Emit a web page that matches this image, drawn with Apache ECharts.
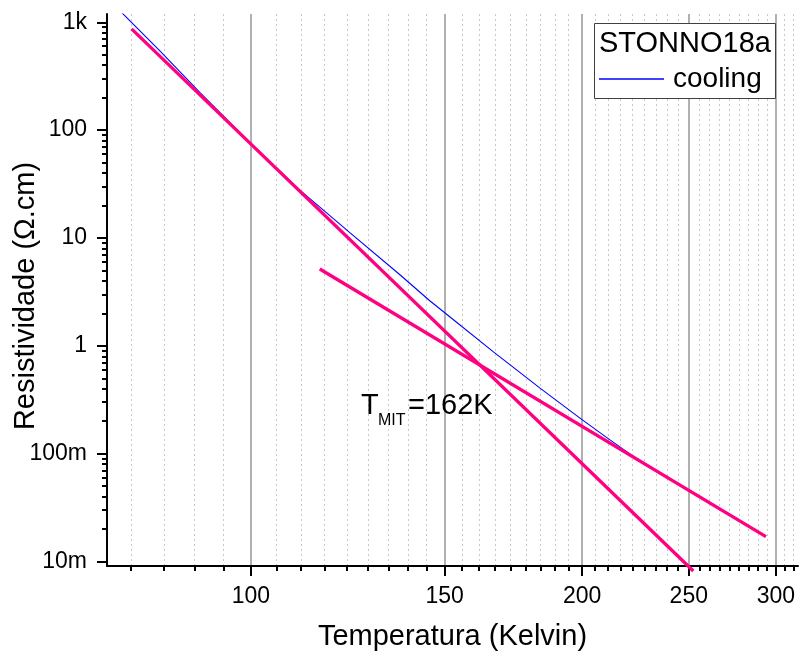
<!DOCTYPE html>
<html>
<head>
<meta charset="utf-8">
<title>STONNO18a resistividade</title>
<script src="https://cdn.jsdelivr.net/npm/echarts@6/dist/echarts.min.js"></script>
<style>
  html, body { margin: 0; padding: 0; background: #fff; }
  #chart { width: 800px; height: 657px; }
</style>
</head>
<body>
<div id="chart"></div>
<script>
// Cooling curve, resistivity (Ω.cm) vs temperature (K)
const coolingT   = [75.2, 76.3, 82.7, 89.9, 100.0, 110.8, 123.0, 136.6, 145.4, 151.6, 165.9, 183.0, 199.8, 212.0, 221.0, 230.4];
const coolingRho = [1430, 1232, 541, 222.9, 74.9, 27.75, 11.19, 4.56, 2.616, 1.858, 0.889, 0.4076, 0.2079, 0.1341, 0.0995, 0.0762];

// Straight-line fits on the log-log plot (low-T and high-T regimes)
const fitLowT    = [77.9, 252.4];
const fitLowRho  = [869, 0.00816];
const fitHighT   = [115.5, 293.8];
const fitHighRho = [5.15, 0.0170];

// Axis ticks
const xMajorTicks = [100, 150, 200, 250, 300];
const yMajorTicks = [0.01, 0.1, 1, 10, 100, 1000];

const xRange = [74.0, 314.2];
const yRange = [0.009082, 1193];

// Minor temperature ticks: 8 between each pair of major ticks
const xMinorTicks = [];
const xStep = (xMajorTicks[1] - xMajorTicks[0]) / 9;
for (let v = xMajorTicks[0] - xStep; v > xRange[0]; v -= xStep) xMinorTicks.unshift(+v.toFixed(4));
for (let i = 0; i < xMajorTicks.length; i++) {
  const a = xMajorTicks[i];
  const b = i + 1 < xMajorTicks.length ? xMajorTicks[i + 1] : a + (xMajorTicks[1] - xMajorTicks[0]);
  const step = (b - a) / 9;
  for (let k = 1; k < 9; k++) {
    const v = a + k * step;
    if (v < xRange[1]) xMinorTicks.push(+v.toFixed(4));
  }
}

// Minor resistivity ticks: 2..9 within every decade
const yMinorTicks = [];
for (const d of [0.001, 0.01, 0.1, 1, 10, 100, 1000]) {
  for (let m = 2; m <= 9; m++) {
    const v = +(m * d).toPrecision(6);
    if (v > yRange[0] && v < yRange[1]) yMinorTicks.push(v);
  }
}

const pairs = (xs, ys) => xs.map((x, i) => [x, ys[i]]);

function rhoLabel(v) {
  const e = Math.round(Math.log10(v));
  const map = { '-3': '1m', '-2': '10m', '-1': '100m', '0': '1', '1': '10', '2': '100', '3': '1k' };
  return map[String(e)] || String(v);
}

const FONT = 'Liberation Sans, Arial, sans-serif';
const pink = '#ff0080';

const chart = echarts.init(document.getElementById('chart'), null, { renderer: 'canvas' });

chart.setOption({
  backgroundColor: '#ffffff',
  animation: false,
  textStyle: { fontFamily: FONT },
  grid: { left: 107, right: 2, top: 14, bottom: 91, containLabel: false, outerBoundsMode: 'none' },
  xAxis: [
    {
      type: 'log', min: xRange[0], max: xRange[1],
      name: 'Temperatura (Kelvin)', nameLocation: 'middle', nameGap: 56, nameMoveOverlap: false,
      nameTextStyle: { fontSize: 29, color: '#000', fontFamily: FONT },
      axisLine: { show: true, onZero: false, lineStyle: { color: '#000', width: 2 } },
      axisTick: { show: true, customValues: xMajorTicks, length: 10, lineStyle: { color: '#000', width: 2 } },
      axisLabel: { show: true, customValues: xMajorTicks, fontSize: 23, color: '#000', margin: 19, fontFamily: FONT,
                   formatter: v => String(Math.round(v)) },
      splitLine: { show: true, lineStyle: { color: '#b0b0b0', width: 2 } },
      minorTick: { show: false }, minorSplitLine: { show: false }
    },
    {
      type: 'log', min: xRange[0], max: xRange[1], position: 'bottom',
      axisLine: { show: false, onZero: false },
      axisTick: { show: true, customValues: xMinorTicks, length: 5, lineStyle: { color: '#000', width: 2 } },
      axisLabel: { show: false },
      splitLine: { show: true, lineStyle: { color: '#c8c8c8', width: 1, type: [2, 3] } }
    }
  ],
  yAxis: [
    {
      type: 'log', min: yRange[0], max: yRange[1],
      name: 'Resistividade (Ω.cm)', nameLocation: 'middle', nameGap: 67, nameMoveOverlap: false,
      nameTextStyle: { fontSize: 29, color: '#000', fontFamily: FONT, padding: [0, 12, 0, 0] },
      axisLine: { show: true, onZero: false, lineStyle: { color: '#000', width: 2 } },
      axisTick: { show: true, customValues: yMajorTicks, length: 10, lineStyle: { color: '#000', width: 2 } },
      axisLabel: { show: true, customValues: yMajorTicks, fontSize: 23, color: '#000', margin: 20, fontFamily: FONT,
                   formatter: rhoLabel },
      splitLine: { show: false }
    },
    {
      type: 'log', min: yRange[0], max: yRange[1], position: 'left',
      axisLine: { show: false, onZero: false },
      axisTick: { show: true, customValues: yMinorTicks, length: 5, lineStyle: { color: '#000', width: 2 } },
      axisLabel: { show: false },
      splitLine: { show: false }
    }
  ],
  legend: {
    data: [{ name: 'cooling', icon: 'rect' }],
    left: 599, top: 65,
    itemWidth: 65, itemHeight: 1.4, padding: 0,
    textStyle: { fontSize: 28, color: '#000', fontFamily: FONT, padding: [0, 0, 0, 4] },
    z: 6
  },
  graphic: [
    { type: 'rect', z: 3, shape: { x: 594.5, y: 23.5, width: 181, height: 75 },
      style: { fill: '#fff', stroke: '#404040', lineWidth: 1 } },
    { type: 'text', z: 5, left: 599, top: 29,
      style: { text: 'STONNO18a', fontSize: 29, fill: '#000', fontFamily: FONT } },
    { type: 'text', z: 5, x: 361, y: 406,
      style: { text: 'T', fontSize: 29, fill: '#000', fontFamily: FONT, verticalAlign: 'middle' } },
    { type: 'text', z: 5, x: 378, y: 421,
      style: { text: 'MIT', fontSize: 16, fill: '#000', fontFamily: FONT, verticalAlign: 'middle' } },
    { type: 'text', z: 5, x: 408, y: 406,
      style: { text: '=162K', fontSize: 29, fill: '#000', fontFamily: FONT, verticalAlign: 'middle' } }
  ],
  series: [
    {
      name: 'cooling', type: 'line', xAxisIndex: 0, yAxisIndex: 0,
      data: pairs(coolingT, coolingRho),
      symbol: 'none', smooth: false, clip: true,
      lineStyle: { color: '#0000ff', width: 1.1 }, itemStyle: { color: '#0000ff' },
      z: 3
    },
    {
      name: 'fit-low', type: 'line', xAxisIndex: 0, yAxisIndex: 0,
      data: pairs(fitLowT, fitLowRho),
      symbol: 'none', clip: false,
      lineStyle: { color: pink, width: 3.3 }, itemStyle: { color: pink },
      z: 4
    },
    {
      name: 'fit-high', type: 'line', xAxisIndex: 0, yAxisIndex: 0,
      data: pairs(fitHighT, fitHighRho),
      symbol: 'none', clip: false,
      lineStyle: { color: pink, width: 3.3 }, itemStyle: { color: pink },
      z: 4
    }
  ]
});
</script>
</body>
</html>
